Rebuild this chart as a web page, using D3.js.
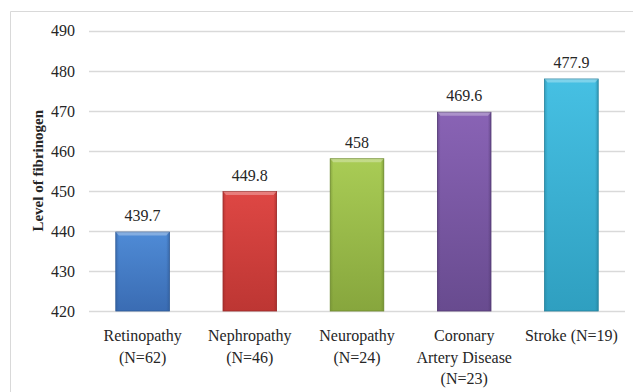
<!DOCTYPE html>
<html><head><meta charset="utf-8">
<script src="https://cdn.jsdelivr.net/npm/d3@7"></script>
<style>body{margin:0;background:#fff}svg{display:block}</style>
</head><body><svg id="c" width="633" height="392"></svg>
<script>
const categories = [["Retinopathy","(N=62)"],["Nephropathy","(N=46)"],["Neuropathy","(N=24)"],["Coronary","Artery Disease","(N=23)"],["Stroke (N=19)"]];
const values = [439.7, 449.8, 458, 469.6, 477.9];
const valueLabels = ["439.7","449.8","458","469.6","477.9"];
const yTicks = [420,430,440,450,460,470,480,490];
const colors = [["#4f8bd6","#3a6cb3","#2f5a96"],["#de4744","#bd3633","#9b2a28"],["#a9cc55","#87a63d","#6e8a2f"],["#8963b5","#684b8f","#533a74"],["#46c0e3","#2f9fc0","#24819c"]];
const FONT = "Liberation Serif";

const svg = d3.select("#c");
svg.append("path").attr("d","M10.5,392 V11.5 H633").attr("fill","none").attr("stroke","#d9d9d9").attr("stroke-width",1);

const m = {l:89, r:625, t:30.5, b:311};
const x = d3.scaleBand().domain(d3.range(values.length)).range([m.l,m.r]).paddingInner(0.5).paddingOuter(0.25);
const y = d3.scaleLinear().domain([420,490]).range([m.b,m.t]);

svg.append("g").selectAll("line").data(yTicks).join("line")
  .attr("x1",m.l).attr("x2",m.r).attr("y1",d=>Math.round(y(d))+0.5).attr("y2",d=>Math.round(y(d))+0.5)
  .attr("stroke","#d9d9d9").attr("stroke-width",1.5);

const ya = svg.append("g").attr("transform",`translate(${m.l-14},0)`)
  .call(d3.axisLeft(y).tickValues(yTicks).tickSize(0).tickPadding(0));
ya.attr("font-family",null).attr("font-size",null);
ya.select(".domain").remove();
ya.selectAll("text").style("font-size","16px").style("fill","#262626").style("font-family",FONT).attr("dy","0.34em");

svg.append("text").attr("transform",`translate(43,${(m.t+m.b)/2}) rotate(-90)`).attr("text-anchor","middle")
  .style("font-family",FONT).style("fill","#262626")
  .style("font-size","15px").style("font-weight","bold").text("Level of fibrinogen");

const defs = svg.append("defs");
colors.forEach((c,i)=>{
  const g = defs.append("linearGradient").attr("id","g"+i).attr("x1",0).attr("y1",0).attr("x2",0).attr("y2",1);
  g.append("stop").attr("offset","0%").attr("stop-color",c[0]);
  g.append("stop").attr("offset","100%").attr("stop-color",c[1]);
  const h = defs.append("linearGradient").attr("id","h"+i).attr("x1",0).attr("y1",0).attr("x2",1).attr("y2",0);
  h.append("stop").attr("offset","0%").attr("stop-color",c[2]).attr("stop-opacity",0.5);
  h.append("stop").attr("offset","6%").attr("stop-color",c[2]).attr("stop-opacity",0);
  h.append("stop").attr("offset","94%").attr("stop-color",c[2]).attr("stop-opacity",0);
  h.append("stop").attr("offset","100%").attr("stop-color",c[2]).attr("stop-opacity",0.6);
});

const bars = svg.append("g").selectAll("g").data(values).join("g");
bars.append("rect").attr("x",(d,i)=>x(i)).attr("y",d=>y(d)).attr("width",x.bandwidth()).attr("height",d=>y(420)-y(d))
  .attr("fill",(d,i)=>`url(#g${i})`).attr("stroke",(d,i)=>colors[i][2]).attr("stroke-width",0.8);
bars.append("rect").attr("x",(d,i)=>x(i)).attr("y",d=>y(d)).attr("width",x.bandwidth()).attr("height",d=>y(420)-y(d))
  .attr("fill",(d,i)=>`url(#h${i})`);
bars.append("path").attr("d",(d,i)=>{const x0=x(i),x1=x(i)+x.bandwidth(),t=y(d);
  return `M${x0},${t} H${x1} L${x1-3},${t+3.5} H${x0+3} Z`;})
  .attr("fill","#ffffff").attr("fill-opacity",0.3);

svg.append("g").selectAll("text").data(values).join("text")
  .attr("x",(d,i)=>x(i)+x.bandwidth()/2).attr("y",d=>y(d)-11).attr("text-anchor","middle")
  .style("font-family",FONT).style("fill","#262626")
  .style("font-size","16px").text((d,i)=>valueLabels[i]);

const cl = svg.append("g").selectAll("text").data(categories).join("text")
  .attr("x",(d,i)=>x(i)+x.bandwidth()/2).attr("y",341).attr("text-anchor","middle")
  .style("font-size","16px").style("font-family",FONT).style("fill","#262626");
cl.selectAll("tspan").data(d=>d).join("tspan")
  .attr("x",function(){return d3.select(this.parentNode).attr("x");})
  .attr("dy",(d,j)=>j===0?0:21.5).text(d=>d);
</script></body></html>
